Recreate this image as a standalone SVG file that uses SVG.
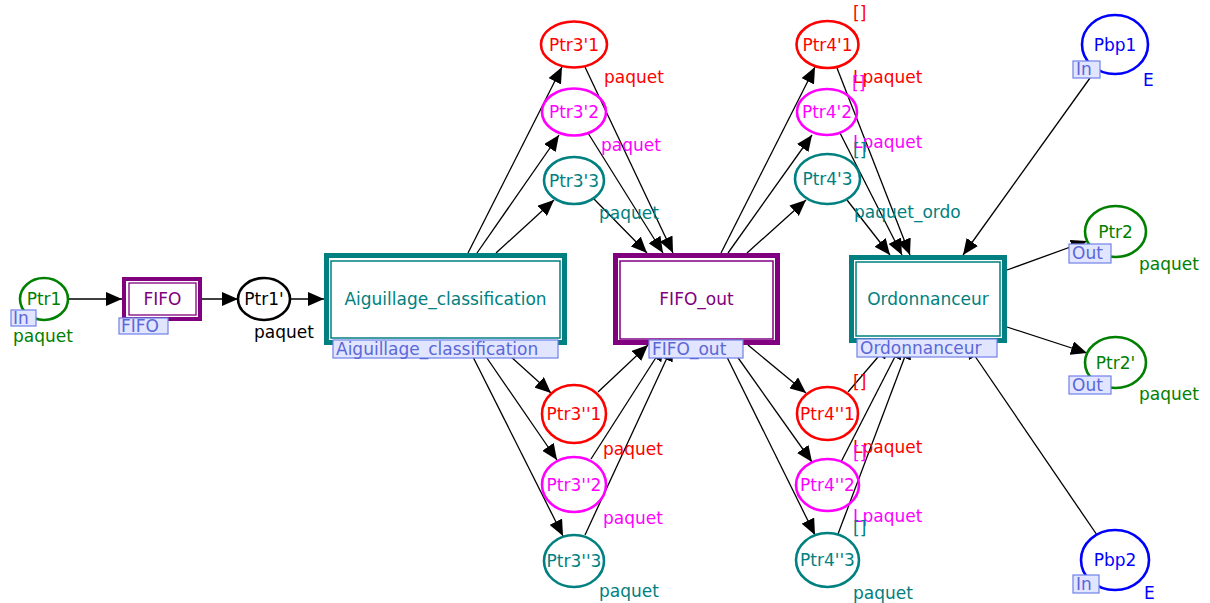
<svg xmlns="http://www.w3.org/2000/svg" width="1210" height="603" viewBox="0 0 1210 603">
<style>
text{font-family:"DejaVu Sans","Liberation Sans",sans-serif;font-size:17px}
.c{text-anchor:middle}
.pl{fill:none;stroke-width:2.6}
.lb{fill:#e2e5ff;stroke:#7080e8;stroke-width:1.2}
.lt{fill:#5a68d8}
.cn line{stroke:#000;stroke-width:1.3;marker-end:url(#ah)}
.red{fill:#ff0000}.mag{fill:#ff00ff}.teal{fill:#008080}.grn{fill:#008000}.blu{fill:#0000ff}.pur{fill:#800080}
</style>
<defs>
<marker id="ah" markerUnits="userSpaceOnUse" markerWidth="16" markerHeight="14" refX="16" refY="7" orient="auto">
<path d="M0,0 L16,7 L0,14 z" fill="#000"/>
</marker>
</defs>
<rect width="1210" height="603" fill="#fff"/>
<g id="connectors" class="cn">
<line x1="68" y1="299" x2="122" y2="299"/>
<line x1="202" y1="299" x2="238" y2="299"/>
<line x1="290" y1="299" x2="324" y2="299"/>
<line x1="468" y1="253" x2="562" y2="67"/>
<line x1="477" y1="253" x2="559" y2="135"/>
<line x1="496" y1="253" x2="554" y2="200"/>
<line x1="585" y1="67" x2="673" y2="253"/>
<line x1="588" y1="133" x2="663" y2="253"/>
<line x1="593" y1="198" x2="647" y2="253"/>
<line x1="498" y1="345" x2="551" y2="393"/>
<line x1="478" y1="345" x2="557" y2="460"/>
<line x1="467" y1="345" x2="563" y2="536"/>
<line x1="598" y1="392" x2="648" y2="345"/>
<line x1="591" y1="459" x2="664" y2="345"/>
<line x1="585" y1="535" x2="673" y2="345"/>
<line x1="721" y1="253" x2="815" y2="67"/>
<line x1="728" y1="253" x2="812" y2="135"/>
<line x1="747" y1="253" x2="806" y2="200"/>
<line x1="837" y1="68" x2="910" y2="255"/>
<line x1="840" y1="133" x2="902" y2="255"/>
<line x1="847" y1="200" x2="890" y2="255"/>
<line x1="748" y1="345" x2="806" y2="393"/>
<line x1="729" y1="345" x2="812" y2="462"/>
<line x1="721" y1="345" x2="815" y2="535"/>
<line x1="848" y1="392" x2="890" y2="343"/>
<line x1="841" y1="462" x2="902" y2="343"/>
<line x1="838" y1="534" x2="910" y2="343"/>
<line x1="1090" y1="78" x2="963" y2="255"/>
<line x1="1007" y1="270" x2="1087" y2="241"/>
<line x1="1007" y1="327" x2="1087" y2="353"/>
<line x1="1097" y1="535" x2="966" y2="343"/>
</g>
<g id="Ptr1">
<ellipse class="pl" cx="44" cy="299" rx="24" ry="21" stroke="#008000"/>
<text class="c grn" x="44" y="305">Ptr1</text>
<rect class="lb" x="11" y="310" width="25" height="16"/>
<text class="lt" x="13" y="324">In</text>
<text class="grn" x="13" y="342">paquet</text>
</g>
<g id="FIFO">
<rect x="124" y="279" width="76" height="40" fill="#fff" stroke="#800080" stroke-width="4"/>
<rect x="129" y="283" width="67" height="32" fill="none" stroke="#800080" stroke-width="1.3"/>
<text class="c pur" x="162.5" y="305">FIFO</text>
<rect class="lb" x="119" y="318" width="49" height="16"/>
<text class="lt" x="121" y="332">FIFO</text>
</g>
<g id="Ptr1p">
<ellipse class="pl" cx="264" cy="299" rx="26" ry="21" stroke="#000"/>
<text class="c" x="264" y="305">Ptr1'</text>
<text x="254" y="338">paquet</text>
</g>
<g id="Aiguillage_classification">
<rect x="326.5" y="255.5" width="238" height="87" fill="#fff" stroke="#008080" stroke-width="5"/>
<rect x="331" y="261" width="229" height="77" fill="none" stroke="#008080" stroke-width="1.5"/>
<text class="c teal" x="445.5" y="305">Aiguillage_classification</text>
<rect class="lb" x="333" y="340" width="225" height="18"/>
<text class="lt" x="336" y="355">Aiguillage_classification</text>
</g>
<g id="Ptr3p1">
<ellipse class="pl" cx="574" cy="44.5" rx="33" ry="23" stroke="#ff0000"/>
<text class="c red" x="574" y="50.5">Ptr3'1</text>
<text class="red" x="604" y="83">paquet</text>
</g>
<g id="Ptr3p2">
<ellipse class="pl" cx="574" cy="112" rx="32" ry="23.5" stroke="#ff00ff"/>
<text class="c mag" x="574" y="118">Ptr3'2</text>
<text class="mag" x="601" y="151">paquet</text>
</g>
<g id="Ptr3p3">
<ellipse class="pl" cx="574" cy="180.5" rx="30" ry="23.5" stroke="#008080"/>
<text class="c teal" x="574" y="186.5">Ptr3'3</text>
<text class="teal" x="599" y="219">paquet</text>
</g>
<g id="Ptr3pp1">
<ellipse class="pl" cx="574" cy="414" rx="32" ry="29" stroke="#ff0000"/>
<text class="c red" x="574" y="420">Ptr3''1</text>
<text class="red" x="603" y="455">paquet</text>
</g>
<g id="Ptr3pp2">
<ellipse class="pl" cx="574" cy="484.5" rx="32" ry="27.5" stroke="#ff00ff"/>
<text class="c mag" x="574" y="490.5">Ptr3''2</text>
<text class="mag" x="603" y="524">paquet</text>
</g>
<g id="Ptr3pp3">
<ellipse class="pl" cx="574" cy="561" rx="30" ry="26" stroke="#008080"/>
<text class="c teal" x="574" y="567">Ptr3''3</text>
<text class="teal" x="599" y="597">paquet</text>
</g>
<g id="FIFO_out">
<rect x="615.5" y="255.5" width="162" height="87" fill="#fff" stroke="#800080" stroke-width="5"/>
<rect x="620" y="261" width="153" height="78" fill="none" stroke="#800080" stroke-width="1.5"/>
<text class="c pur" x="696.5" y="305">FIFO_out</text>
<rect class="lb" x="649" y="340" width="94" height="18"/>
<text class="lt" x="652" y="355">FIFO_out</text>
</g>
<g id="Ptr4p1">
<ellipse class="pl" cx="827.5" cy="44.5" rx="31" ry="23.5" stroke="#ff0000"/>
<text class="c red" x="827.5" y="50.5">Ptr4'1</text>
<text class="red" x="853" y="19">[]</text>
<text class="red" x="853" y="83">Lpaquet</text>
</g>
<g id="Ptr4p2">
<ellipse class="pl" cx="827" cy="112" rx="30" ry="23" stroke="#ff00ff"/>
<text class="c mag" x="827" y="118">Ptr4'2</text>
<text class="mag" x="852" y="89">[]</text>
<text class="mag" x="853" y="148">Lpaquet</text>
</g>
<g id="Ptr4p3">
<ellipse class="pl" cx="827.5" cy="179" rx="32.5" ry="25" stroke="#008080"/>
<text class="c teal" x="827.5" y="185">Ptr4'3</text>
<text class="teal" x="853" y="156">[]</text>
<text class="teal" x="854" y="218">paquet_ordo</text>
</g>
<g id="Ptr4pp1">
<ellipse class="pl" cx="827.5" cy="413.5" rx="30.5" ry="26.5" stroke="#ff0000"/>
<text class="c red" x="827.5" y="419.5">Ptr4''1</text>
<text class="red" x="853" y="388">[]</text>
<text class="red" x="853" y="453">Lpaquet</text>
</g>
<g id="Ptr4pp2">
<ellipse class="pl" cx="827.5" cy="485" rx="31.5" ry="26" stroke="#ff00ff"/>
<text class="c mag" x="827.5" y="491">Ptr4''2</text>
<text class="mag" x="853" y="459">[]</text>
<text class="mag" x="853" y="522">Lpaquet</text>
</g>
<g id="Ptr4pp3">
<ellipse class="pl" cx="827.5" cy="560" rx="31.5" ry="27" stroke="#008080"/>
<text class="c teal" x="827.5" y="566">Ptr4''3</text>
<text class="teal" x="853" y="534">[]</text>
<text class="teal" x="853" y="599">paquet</text>
</g>
<g id="Ordonnanceur">
<rect x="851.5" y="257.5" width="153" height="83" fill="#fff" stroke="#008080" stroke-width="5"/>
<rect x="856" y="262" width="144" height="74" fill="none" stroke="#008080" stroke-width="1.5"/>
<text class="c teal" x="928" y="305">Ordonnanceur</text>
<rect class="lb" x="857" y="339" width="140" height="18"/>
<text class="lt" x="860" y="354">Ordonnanceur</text>
</g>
<g id="Pbp1">
<ellipse class="pl" cx="1115" cy="44.5" rx="33" ry="29.5" stroke="#0000ff"/>
<text class="c blu" x="1115" y="50.5">Pbp1</text>
<rect class="lb" x="1073" y="61" width="27" height="17"/>
<text class="lt" x="1076" y="75">In</text>
<text class="blu" x="1143" y="86">E</text>
</g>
<g id="Ptr2">
<ellipse class="pl" cx="1115.5" cy="231.5" rx="30.5" ry="25.5" stroke="#008000"/>
<text class="c grn" x="1115.5" y="237.5">Ptr2</text>
<rect class="lb" x="1069" y="244" width="42" height="19"/>
<text class="lt" x="1072" y="259">Out</text>
<text class="grn" x="1139" y="270">paquet</text>
</g>
<g id="Ptr2p">
<ellipse class="pl" cx="1115.5" cy="362.5" rx="30.5" ry="25.5" stroke="#008000"/>
<text class="c grn" x="1115.5" y="368.5">Ptr2'</text>
<rect class="lb" x="1069" y="376" width="42" height="18"/>
<text class="lt" x="1072" y="391">Out</text>
<text class="grn" x="1139" y="400">paquet</text>
</g>
<g id="Pbp2">
<ellipse class="pl" cx="1115" cy="560" rx="34" ry="30" stroke="#0000ff"/>
<text class="c blu" x="1115" y="566">Pbp2</text>
<rect class="lb" x="1073" y="575" width="26" height="18"/>
<text class="lt" x="1076" y="590">In</text>
<text class="blu" x="1144" y="599">E</text>
</g>
</svg>
